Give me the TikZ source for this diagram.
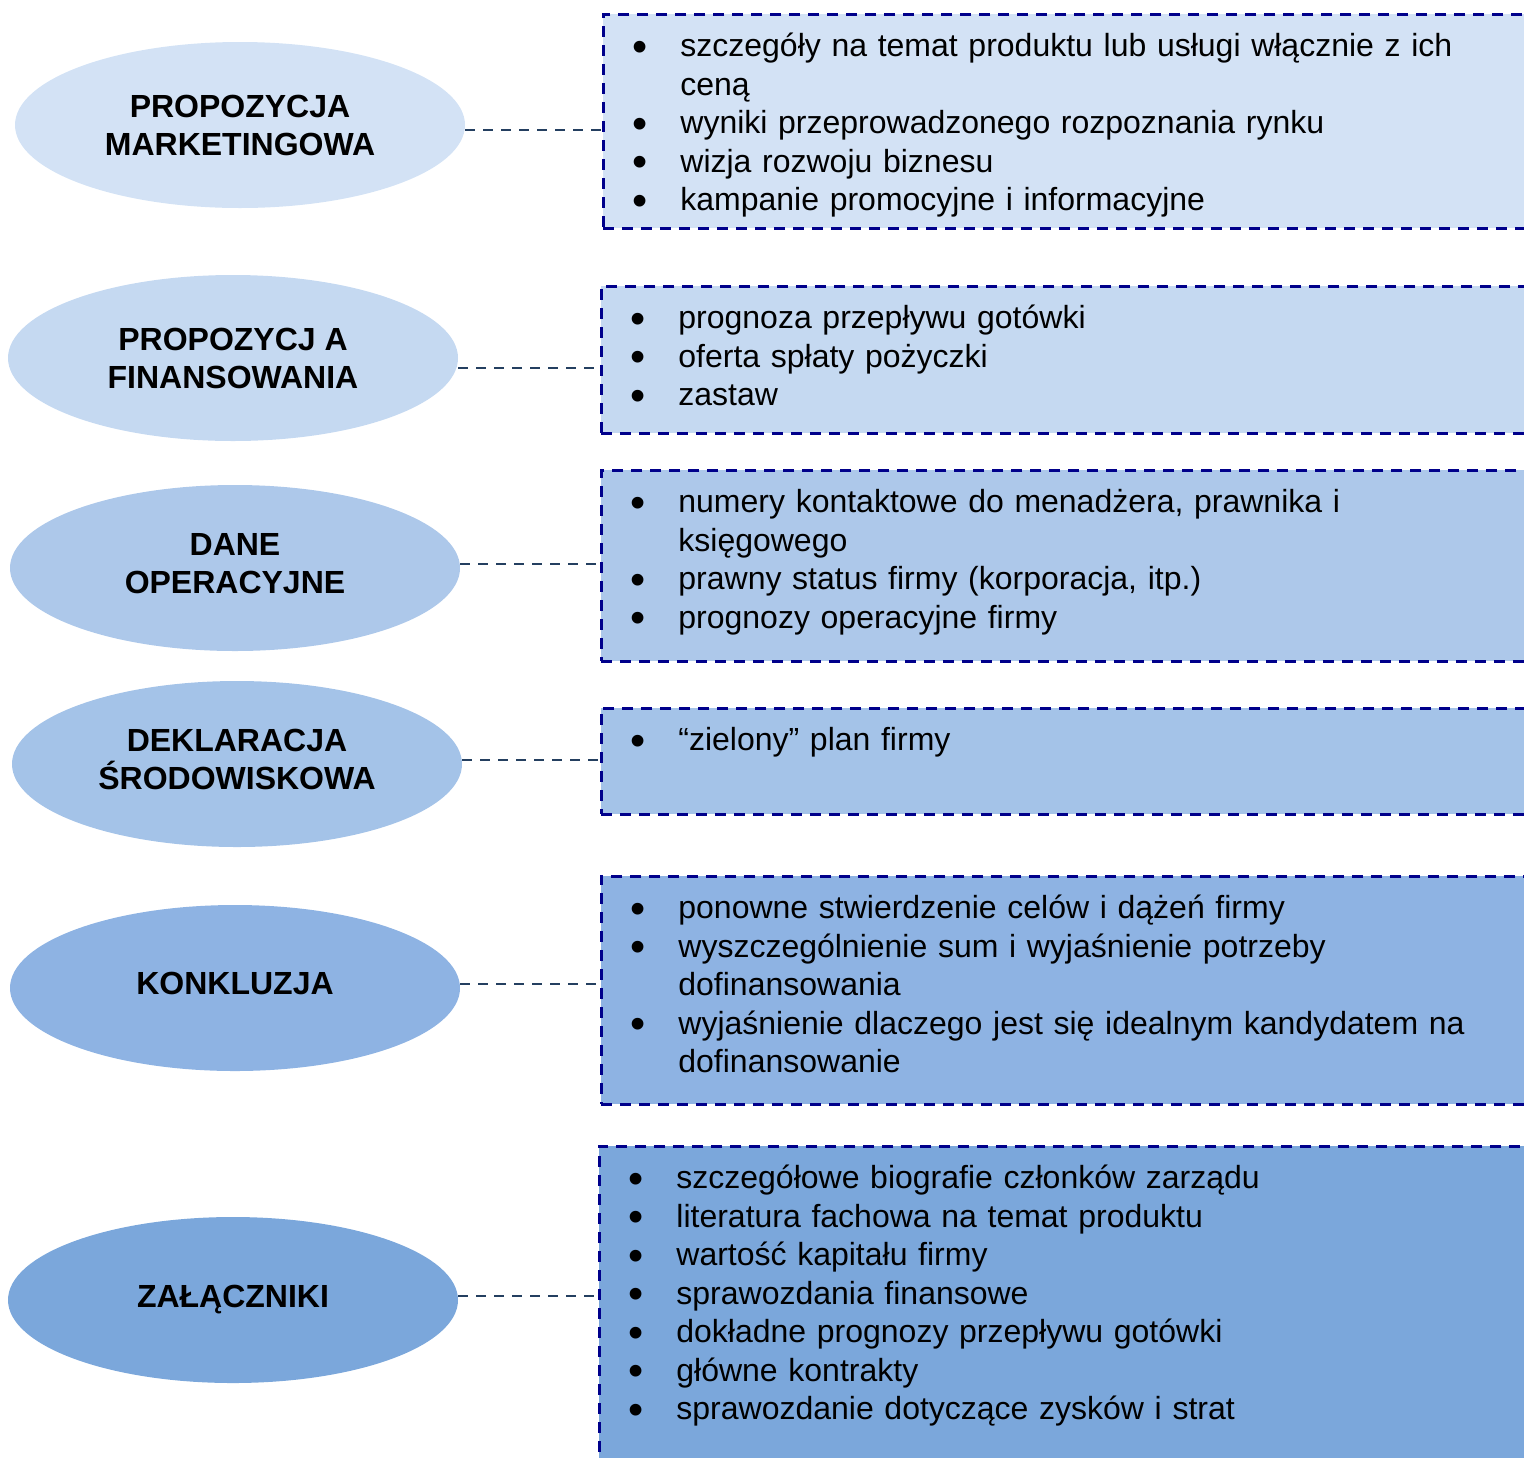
\documentclass[tikz,border=0pt]{standalone}
\usepackage{fontspec}
\setmainfont{Liberation Sans}
\usetikzlibrary{shapes.geometric}

\definecolor{tintA}{HTML}{D3E2F5}
\definecolor{tintB}{HTML}{C5D9F1}
\definecolor{tintC}{HTML}{ADC8EA}
\definecolor{tintD}{HTML}{A4C3E8}
\definecolor{tintE}{HTML}{8EB3E3}
\definecolor{tintF}{HTML}{7BA7DB}
\definecolor{edgenavy}{HTML}{00008B}
\definecolor{linkslate}{HTML}{243F60}

\newcommand{\pkt}{\par\hangindent=24pt\hangafter=1\noindent
    \makebox[24pt][l]{\raisebox{-2.2pt}{\scalebox{1.35}{\textbullet}}}}

\begin{document}
\begin{tikzpicture}[x=0.5pt,y=-0.5pt]%
        \tikzset{%
            bubble/.style={ellipse, minimum width=225pt, minimum height=83pt, inner sep=0pt,
                align=center, font=\bfseries\fontsize{16}{19}\selectfont},
            lifted/.style={execute at end node={\rule[-5pt]{0pt}{5pt}}},
            panel/.style={draw=edgenavy, line width=1.25pt, dash pattern=on 5.5pt off 4pt,
                anchor=north west, minimum width=466pt, inner sep=0pt},
            listtext/.style={anchor=north west, inner sep=0pt, text width=440pt, align=left,
                font=\fontsize{16}{19.25}\selectfont},
            link/.style={draw=linkslate, line width=1.3pt, dash pattern=on 5pt off 4pt},
        }%
        \useasboundingbox (0,0) rectangle (1524,1457);
        % ellipses on the left
        \node[bubble, fill=tintA] (e1) at (240,125) {PROPOZYCJA\\MARKETINGOWA};
        \node[bubble, fill=tintB] (e2) at (233,358) {PROPOZYCJ A\\FINANSOWANIA};
        \node[bubble, lifted, fill=tintC] (e3) at (235,568) {DANE\\OPERACYJNE};
        \node[bubble, lifted, fill=tintD] (e4) at (237,764) {DEKLARACJA\\ŚRODOWISKOWA};
        \node[bubble, lifted, fill=tintE] (e5) at (235,988) {KONKLUZJA};
        \node[bubble, fill=tintF] (e6) at (233,1300) {ZAŁĄCZNIKI};
        % dashed panels on the right
        \node[panel, fill=tintA, minimum height=107pt] (b1) at (602,13) {};
        \node[panel, fill=tintB, minimum height=73.5pt] (b2) at (600,285) {};
        \node[panel, fill=tintC, minimum height=95.5pt] (b3) at (600,469) {};
        \node[panel, fill=tintD, minimum height=53pt] (b4) at (600,707) {};
        \node[panel, fill=tintE, minimum height=114pt] (b5) at (600,875) {};
        \node[panel, fill=tintF, minimum height=165pt] (b6) at (598,1145) {};
        % lists
        \node[listtext] (t1) at ([xshift=15pt,yshift=-2.5pt]b1.north west) {%
            \pkt\rule{0pt}{15pt}szczegóły na temat produktu lub usługi włącznie z ich\newline ceną
            \pkt wyniki przeprowadzonego rozpoznania rynku
            \pkt wizja rozwoju biznesu
            \pkt kampanie promocyjne i informacyjne\par};
        \node[listtext] (t2) at ([xshift=15pt,yshift=-2.5pt]b2.north west) {%
            \pkt\rule{0pt}{15pt}prognoza przepływu gotówki
            \pkt oferta spłaty pożyczki
            \pkt zastaw\par};
        \node[listtext] (t3) at ([xshift=15pt,yshift=-2.5pt]b3.north west) {%
            \pkt\rule{0pt}{15pt}numery kontaktowe do menadżera, prawnika i\newline księgowego
            \pkt prawny status firmy (korporacja, itp.)
            \pkt prognozy operacyjne firmy\par};
        \node[listtext] (t4) at ([xshift=15pt,yshift=-2.5pt]b4.north west) {%
            \pkt\rule{0pt}{15pt}“zielony” plan firmy\par};
        \node[listtext] (t5) at ([xshift=15pt,yshift=-2.5pt]b5.north west) {%
            \pkt\rule{0pt}{15pt}ponowne stwierdzenie celów i dążeń firmy
            \pkt wyszczególnienie sum i wyjaśnienie potrzeby\newline dofinansowania
            \pkt wyjaśnienie dlaczego jest się idealnym kandydatem na\newline dofinansowanie\par};
        \node[listtext] (t6) at ([xshift=15pt,yshift=-2.5pt]b6.north west) {%
            \pkt\rule{0pt}{15pt}szczegółowe biografie członków zarządu
            \pkt literatura fachowa na temat produktu
            \pkt wartość kapitału firmy
            \pkt sprawozdania finansowe
            \pkt dokładne prognozy przepływu gotówki
            \pkt główne kontrakty
            \pkt sprawozdanie dotyczące zysków i strat\par};
        % connectors
        \draw[link] (e1.east) ++(0,5) coordinate (c1) -- (c1 -| b1.west);
        \draw[link] (e2.east) ++(0,10) coordinate (c2) -- (c2 -| b2.west);
        \draw[link] (e3.east) ++(0,-4) coordinate (c3) -- (c3 -| b3.west);
        \draw[link] (e4.east) ++(0,-4) coordinate (c4) -- (c4 -| b4.west);
        \draw[link] (e5.east) ++(0,-4) coordinate (c5) -- (c5 -| b5.west);
        \draw[link] (e6.east) ++(0,-4) coordinate (c6) -- (c6 -| b6.west);
    \end{tikzpicture}
\end{document}
